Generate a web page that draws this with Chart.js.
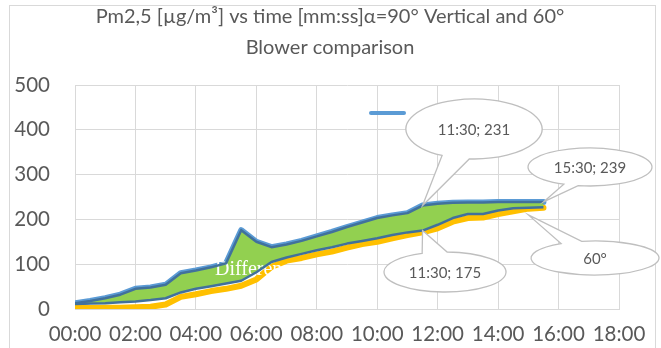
<!DOCTYPE html>
<html><head><meta charset="utf-8">
<script src="https://cdn.jsdelivr.net/npm/chart.js@4/dist/chart.umd.min.js"></script>
<style>html,body{margin:0;padding:0;background:#fff;}#wrap{width:661px;height:348px;position:relative;}</style>
</head><body><div id="wrap"><canvas id="c" width="661" height="348"></canvas></div>
<script>
// ---- data ----
const titleLines = ['Pm2,5 [µg/m³] vs time [mm:ss]α=90° Vertical and 60°', 'Blower comparison'];
const timeLabels = ['00:00','00:30','01:00','01:30','02:00','02:30','03:00','03:30','04:00','04:30',
  '05:00','05:30','06:00','06:30','07:00','07:30','08:00','08:30','09:00','09:30',
  '10:00','10:30','11:00','11:30','12:00','12:30','13:00','13:30','14:00','14:30','15:00','15:30'];
const vertical90 = [13,18,24,32,45,48,54,80,86,93,102,176,150,138,144,152,162,172,183,193,203,209,214,231,235,237,238,238,239,239,239,239];
const blower60 = [2,2,3,3,4,5,10,27,33,40,45,52,66,94,108,114,122,128,137,145,150,158,165,171,180,195,203,204,212,218,224,226];
const difference60 = [11,12,13,15,17,20,24,37,45,51,57,63,82,105,115,123,131,138,146,152,158,165,171,175,188,203,212,212,220,225,226,227];
const xTickLabels = ['00:00','02:00','04:00','06:00','08:00','10:00','12:00','14:00','16:00','18:00'];
const yTickValues = [0,100,200,300,400,500];
const areaLabel = 'Difference';
const callouts = [
  {text:'11:30; 231', at:'11:30', value:231},
  {text:'15:30; 239', at:'15:30', value:239},
  {text:'11:30; 175', at:'11:30', value:175},
  {text:'60°', at:'15:00', value:210}
];
// ---- layout / style (not data) ----
const calloutShapes = [
  {cx:474, cy:129, rx:68, ry:30, mid:106, half:12},
  {cx:590, cy:167, rx:62, ry:19, mid:108, half:7},
  {cx:445, cy:272, rx:61, ry:20, mid:260, half:12},
  {cx:595, cy:258, rx:64, ry:17, mid:248, half:10}
];
const FONT = 'Lato, "Open Sans", sans-serif';
const TXT = '#595959';
const GRID = '#D9D9D9';

function toMin(s){ const p = s.split(':'); return (+p[0]) + (+p[1])/60; }
const pts = arr => arr.map((v,i)=>({x:toMin(timeLabels[i]), y:v}));

const deco = {
  id:'deco',
  beforeDraw(chart){
    const ctx = chart.ctx;
    ctx.save();
    ctx.fillStyle = '#fff'; ctx.fillRect(0,0,chart.width,chart.height);
    ctx.strokeStyle = GRID; ctx.lineWidth = 1;
    ctx.strokeRect(9.5,5.5,646,360);
    ctx.fillStyle = TXT; ctx.font = '20px ' + FONT; ctx.textAlign='center'; ctx.textBaseline='middle';
    ctx.fillText(titleLines[0], 330, 17);
    ctx.fillText(titleLines[1], 330, 48);
    ctx.restore();
  },
  beforeDatasetDraw(chart, args){
    if (args.index !== 2) return;
    const ctx = chart.ctx;
    ctx.save();
    ctx.fillStyle = '#fff'; ctx.font = '20px "Liberation Serif", serif';
    ctx.textAlign='left'; ctx.textBaseline='alphabetic';
    ctx.fillText(areaLabel, 215, 275);
    ctx.restore();
  },
  afterDraw(chart){
    const ctx = chart.ctx, xs = chart.scales.x, ys = chart.scales.y;
    ctx.save();
    // legend swatch of the first series
    ctx.strokeStyle = chart.data.datasets[0].borderColor; ctx.lineWidth = 4; ctx.lineCap='round';
    ctx.beginPath(); ctx.moveTo(371,113); ctx.lineTo(404,113); ctx.stroke();
    ctx.lineCap='butt';
    callouts.forEach((c,i)=>{
      const s = calloutShapes[i];
      const tx = xs.getPixelForValue(toMin(c.at)), ty = ys.getPixelForValue(c.value);
      const m = s.mid*Math.PI/180, h = s.half*Math.PI/180;
      ctx.beginPath();
      ctx.moveTo(tx,ty);
      ctx.lineTo(s.cx + s.rx*Math.cos(m+h), s.cy + s.ry*Math.sin(m+h));
      ctx.ellipse(s.cx, s.cy, s.rx, s.ry, 0, m+h, m-h+2*Math.PI, false);
      ctx.closePath();
      ctx.fillStyle='#fff'; ctx.fill();
      ctx.strokeStyle='#BFBFBF'; ctx.lineWidth=1.3; ctx.stroke();
      ctx.fillStyle=TXT; ctx.font='15px '+FONT; ctx.textAlign='center'; ctx.textBaseline='middle';
      ctx.fillText(c.text, s.cx, s.cy+1);
    });
    ctx.restore();
  }
};

new Chart(document.getElementById('c'), {
  type:'line',
  data:{ datasets:[
    {label:'α=90° Vertical', data:pts(vertical90), borderColor:'#5B9BD5', borderWidth:6, pointRadius:0, fill:false, order:4, borderJoinStyle:'round', borderCapStyle:'round'},
    {label:'60° Blower', data:pts(blower60), borderColor:'#FFC000', borderWidth:6, pointRadius:0, fill:false, order:3, borderJoinStyle:'round', borderCapStyle:'round'},
    {label:areaLabel, data:pts(vertical90), borderColor:'#41719C', borderWidth:2.5, pointRadius:0, fill:'+1', backgroundColor:'#92D050', order:2, borderJoinStyle:'round'},
    {label:areaLabel+' (60°)', data:pts(difference60), borderColor:'#41719C', borderWidth:2.5, pointRadius:0, fill:false, order:1, borderJoinStyle:'round'}
  ]},
  options:{
    responsive:false, animation:false, devicePixelRatio:1,
    layout:{padding:{top:85, left:0, right:42, bottom:0}},
    plugins:{legend:{display:false}, tooltip:{enabled:false}, title:{display:false}},
    scales:{
      x:{type:'linear', min:0, max:18,
        afterBuildTicks(s){ s.ticks = xTickLabels.map(l=>({value:toMin(l)})); },
        afterFit(s){ s.height = 39; },
        grid:{color:GRID, drawTicks:false, lineWidth:1},
        border:{color:GRID},
        ticks:{color:TXT, font:{family:FONT, size:20.5}, padding:13, maxRotation:0, autoSkip:false,
          callback:(v)=>{ const l = xTickLabels.find(t=>toMin(t)===v); return l; }}
      },
      y:{min:0, max:500,
        afterBuildTicks(s){ s.ticks = yTickValues.map(v=>({value:v})); },
        afterFit(s){ s.width = 75; },
        grid:{color:GRID, drawTicks:false},
        border:{color:GRID},
        ticks:{color:TXT, font:{family:FONT, size:20.5}, padding:25}
      }
    }
  },
  plugins:[deco]
});
</script></body></html>
